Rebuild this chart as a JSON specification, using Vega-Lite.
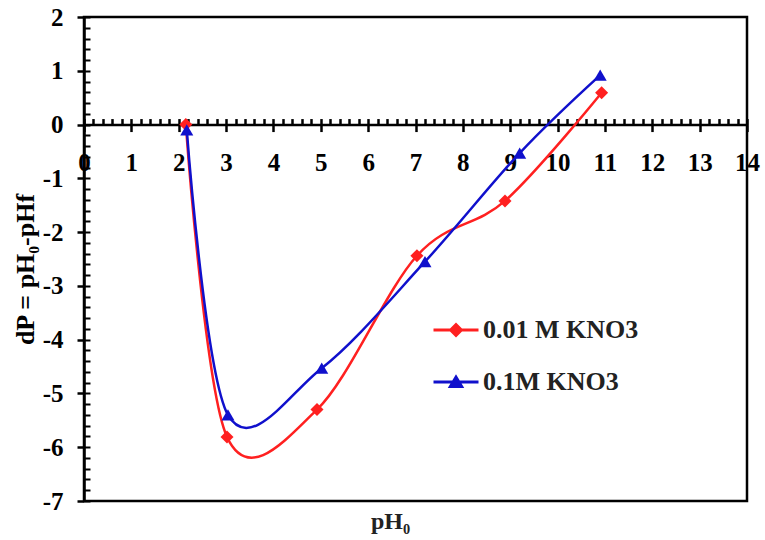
{
  "$schema": "https://vega.github.io/schema/vega-lite/v6.json",
  "autosize": "none",
  "width": 663,
  "height": 484,
  "padding": {"left": 84, "top": 17, "right": 18, "bottom": 39},
  "background": "white",
  "config": {
    "view": {"stroke": "black", "strokeWidth": 2.5},
    "font": "Liberation Serif"
  },
  "data": {
    "values": [
      {"series": "0.01 M KNO3", "pH0": 2.15, "dP": 0.0},
      {"series": "0.01 M KNO3", "pH0": 3.02, "dP": -5.81},
      {"series": "0.01 M KNO3", "pH0": 4.92, "dP": -5.3},
      {"series": "0.01 M KNO3", "pH0": 7.03, "dP": -2.44},
      {"series": "0.01 M KNO3", "pH0": 8.89, "dP": -1.42},
      {"series": "0.01 M KNO3", "pH0": 10.93, "dP": 0.59},
      {"series": "0.1M  KNO3", "pH0": 2.17, "dP": -0.1},
      {"series": "0.1M  KNO3", "pH0": 3.04, "dP": -5.4},
      {"series": "0.1M  KNO3", "pH0": 5.02, "dP": -4.53},
      {"series": "0.1M  KNO3", "pH0": 7.2, "dP": -2.55},
      {"series": "0.1M  KNO3", "pH0": 9.2, "dP": -0.53},
      {"series": "0.1M  KNO3", "pH0": 10.9, "dP": 0.92}
    ]
  },
  "resolve": {"axis": {"x": "independent", "y": "independent"}, "scale": {"shape": "independent"}},
  "layer": [
    {
      "mark": {"type": "line", "interpolate": "cardinal", "strokeWidth": 2.5},
      "encoding": {
        "x": {
          "field": "pH0", "type": "quantitative",
          "scale": {"domain": [0, 14], "nice": false, "zero": false},
          "axis": {
            "orient": "bottom", "offset": -376.44, "values": [0,1,2,3,4,5,6,7,8,9,10,11,12,13,14],
            "tickSize": 7, "tickWidth": 2.5, "tickColor": "black",
            "domainColor": "black", "domainWidth": 2.5,
            "labelFont": "Liberation Serif", "labelFontWeight": "bold", "labelFontSize": 25,
            "labelColor": "black", "labelPadding": 19, "grid": false, "title": null,
            "labelFlush": false
          }
        },
        "y": {
          "field": "dP", "type": "quantitative",
          "scale": {"domain": [-7, 2], "nice": false, "zero": false},
          "axis": {
            "orient": "left", "values": [-7,-6,-5,-4,-3,-2,-1,0,1,2],
            "labelExpr": "replace(datum.label, '−', '-')",
            "tickSize": 7, "tickWidth": 2.5, "tickColor": "black",
            "domainColor": "black", "domainWidth": 2.5,
            "labelFont": "Liberation Serif", "labelFontWeight": "bold", "labelFontSize": 25,
            "labelColor": "black", "labelPadding": 14, "grid": false, "labelFlush": false,
            "title": "dP = pH₀-pHf", "titleFont": "Liberation Serif", "titleFontWeight": "bold",
            "titleFontSize": 26, "titleColor": "black", "titlePadding": 4, "titleY": 252
          }
        },
        "color": {
          "field": "series", "type": "nominal",
          "scale": {"domain": ["0.01 M KNO3", "0.1M  KNO3"], "range": ["#ff2020", "#1010cc"]},
          "legend": null
        },
        "detail": {"field": "series"}
      }
    },
    {
      "mark": {"type": "point", "filled": true, "opacity": 1, "size": 170},
      "encoding": {
        "x": {
          "field": "pH0", "type": "quantitative",
          "axis": {
            "orient": "bottom", "offset": -376.44,
            "values": [0,0.2,0.4,0.6,0.8,1,1.2,1.4,1.6,1.8,2,2.2,2.4,2.6,2.8,3,3.2,3.4,3.6,3.8,4,4.2,4.4,4.6,4.8,5,5.2,5.4,5.6,5.8,6,6.2,6.4,6.6,6.8,7,7.2,7.4,7.6,7.8,8,8.2,8.4,8.6,8.8,9,9.2,9.4,9.6,9.8,10,10.2,10.4,10.6,10.8,11,11.2,11.4,11.6,11.8,12,12.2,12.4,12.6,12.8,13,13.2,13.4,13.6,13.8,14],
            "tickSize": -6, "tickWidth": 2.5, "tickColor": "black",
            "domain": false, "labels": false, "grid": false, "title": null
          }
        },
        "y": {
          "field": "dP", "type": "quantitative",
          "axis": {
            "orient": "left",
            "values": [-7,-6.8,-6.6,-6.4,-6.2,-6,-5.8,-5.6,-5.4,-5.2,-5,-4.8,-4.6,-4.4,-4.2,-4,-3.8,-3.6,-3.4,-3.2,-3,-2.8,-2.6,-2.4,-2.2,-2,-1.8,-1.6,-1.4,-1.2,-1,-0.8,-0.6,-0.4,-0.2,0,0.2,0.4,0.6,0.8,1,1.2,1.4,1.6,1.8,2],
            "tickSize": -6, "tickWidth": 2, "tickColor": "black",
            "domain": false, "labels": false, "grid": false, "title": null
          }
        },
        "color": {"field": "series", "type": "nominal", "legend": null},
        "shape": {
          "field": "series", "type": "nominal",
          "scale": {"domain": ["0.01 M KNO3", "0.1M  KNO3"], "range": ["diamond", "triangle-up"]},
          "legend": null
        }
      }
    },
    {
      "transform": [{"filter": "datum.pH0 > 100"}],
      "mark": {"type": "point", "filled": true, "opacity": 1},
      "encoding": {
        "x": {
          "field": "pH0", "type": "quantitative",
          "axis": {
            "orient": "bottom", "domain": false, "ticks": false, "labels": false, "grid": false,
            "title": "pH₀", "titleFont": "Liberation Serif", "titleFontWeight": "bold",
            "titleFontSize": 24, "titleColor": "#222", "titlePadding": 8, "titleX": 306
          }
        },
        "y": {"field": "dP", "type": "quantitative", "axis": null},
        "shape": {
          "field": "series", "type": "nominal",
          "scale": {
            "domain": ["0.01 M KNO3", "0.1M  KNO3"],
            "range": [
              "M-3,-0.2L3,-0.2L3,0.2L-3,0.2ZM0,-1L1,0L0,1L-1,0Z",
              "M-3,-0.2L3,-0.2L3,0.2L-3,0.2ZM0,-1.05L1.1,0.8L-1.1,0.8Z"
            ]
          },
          "legend": {
            "orient": "none", "legendX": 359, "legendY": 300, "title": null, "padding": 0,
            "labelFont": "Liberation Serif", "labelFontWeight": "bold", "labelFontSize": 26,
            "labelColor": "#222", "rowPadding": 26, "symbolSize": 225, "labelOffset": 14,
            "symbolStrokeWidth": 0,
            "encoding": {
              "symbols": {
                "fill": {
                  "condition": {"test": "datum.value === '0.01 M KNO3'", "value": "#ff2020"},
                  "value": "#1010cc"
                },
                "opacity": {"value": 1}
              }
            }
          }
        }
      }
    }
  ]
}
